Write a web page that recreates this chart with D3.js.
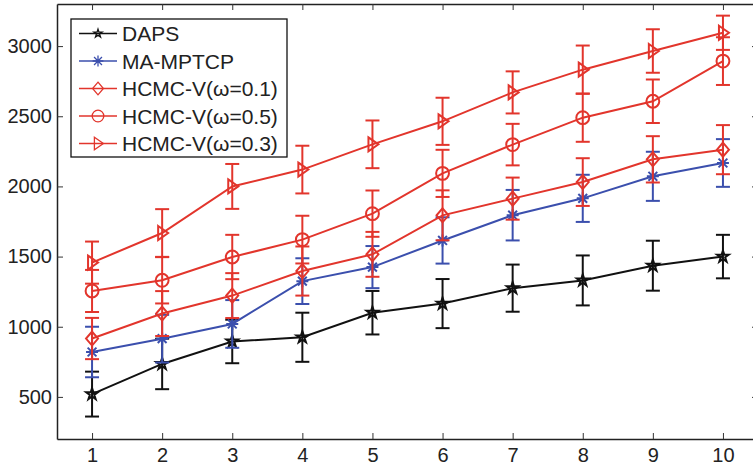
<!DOCTYPE html>
<html>
<head>
<meta charset="utf-8">
<script src="https://cdn.jsdelivr.net/npm/d3@7"></script>
<style>
  body { margin: 0; background: #fff; }
  svg text { font-family: "Liberation Sans", Arial, sans-serif; }
</style>
</head>
<body>
<div id="chart"></div>
<script>
// values
const xVals = [1, 2, 3, 4, 5, 6, 7, 8, 9, 10];
const dapsVals = [520, 735, 895, 925, 1100, 1165, 1275, 1330, 1435, 1500];
const dapsErr = [160, 180, 155, 175, 155, 175, 168, 178, 178, 155];
const mampVals = [820, 915, 1020, 1325, 1425, 1615, 1795, 1915, 2072, 2167];
const mampErr = [180, 170, 170, 163, 150, 165, 180, 168, 175, 170];
const h01Vals = [916, 1094, 1222, 1397, 1516, 1794, 1913, 2031, 2193, 2262];
const h01Err = [147, 160, 160, 175, 160, 178, 150, 170, 165, 175];
const h05Vals = [1255, 1331, 1497, 1621, 1806, 2093, 2298, 2490, 2607, 2893];
const h05Err = [150, 165, 158, 170, 165, 168, 148, 172, 155, 170];
const h03Vals = [1457, 1668, 2000, 2120, 2300, 2464, 2670, 2832, 2965, 3095];
const h03Err = [150, 170, 160, 170, 170, 168, 150, 172, 155, 122];
const yTicks = [500, 1000, 1500, 2000, 2500, 3000];
const seriesNames = ["DAPS", "MA-MPTCP", "HCMC-V(\u03c9=0.1)", "HCMC-V(\u03c9=0.5)", "HCMC-V(\u03c9=0.3)"];

const red = "#e2352c", blue = "#3b4fad", black = "#111";

const series = [
  {name: seriesNames[0], vals: dapsVals, err: dapsErr, color: black, marker: "star"},
  {name: seriesNames[1], vals: mampVals, err: mampErr, color: blue, marker: "asterisk"},
  {name: seriesNames[2], vals: h01Vals, err: h01Err, color: red, marker: "diamond"},
  {name: seriesNames[3], vals: h05Vals, err: h05Err, color: red, marker: "circle"},
  {name: seriesNames[4], vals: h03Vals, err: h03Err, color: red, marker: "triangle"}
];

const width = 753, height = 468;
const mLeft = 57, mRight = 758, mTop = 4, mBottom = 439;

const svg = d3.select("#chart").append("svg")
  .attr("width", width)
  .attr("height", height);

const x = d3.scaleLinear().domain([0.5, 10.5]).range([mLeft, mRight]);
const y = d3.scaleLinear().domain([200, 3300]).range([mBottom, mTop]);

// axes box
const axStyle = g => {
  g.selectAll(".domain").attr("stroke", "#222").attr("stroke-width", 1.5);
  g.selectAll(".tick line").attr("stroke", "#333").attr("stroke-width", 1);
  g.selectAll("text").attr("font-size", 20).attr("fill", "#222")
    .style("font-family", "'Liberation Sans', Arial, sans-serif");
};

svg.append("g")
  .attr("transform", `translate(0,${mBottom})`)
  .call(d3.axisBottom(x).tickValues(xVals).tickSizeInner(-6).tickSizeOuter(0).tickPadding(9))
  .call(axStyle);
svg.append("g")
  .attr("transform", `translate(0,${mTop})`)
  .call(d3.axisTop(x).tickValues(xVals).tickSizeInner(-6).tickSizeOuter(0).tickFormat(""))
  .call(axStyle);
svg.append("g")
  .attr("transform", `translate(${mLeft},0)`)
  .call(d3.axisLeft(y).tickValues(yTicks).tickFormat(d3.format("d"))
    .tickSizeInner(-6).tickSizeOuter(0).tickPadding(5))
  .call(axStyle);
svg.append("g")
  .attr("transform", `translate(${mRight},0)`)
  .call(d3.axisRight(y).tickValues(yTicks).tickSizeInner(-6).tickSizeOuter(0).tickFormat(""))
  .call(axStyle);

// marker shapes, k scales them down for the legend
function markerPath(type, k) {
  k = k || 1;
  if (type === "star") return d3.symbol(d3.symbolStar, 42 * k * k)();
  if (type === "diamond") return `M0,${-7 * k}L${6 * k},0L0,${7 * k}L${-6 * k},0Z`;
  if (type === "circle") return d3.symbol(d3.symbolCircle, 130 * k * k)();
  if (type === "triangle") return `M${-4 * k},${-7 * k}L${6 * k},0L${-4 * k},${7 * k}Z`;
  if (type === "asterisk") {
    const a = 6 * k, b = 4.4 * k;
    return `M${-a},0H${a}M0,${-a}V${a}M${-b},${-b}L${b},${b}M${-b},${b}L${b},${-b}`;
  }
}

const line = d3.line().x((d, i) => x(xVals[i])).y(d => y(d));

series.forEach(s => {
  const g = svg.append("g");
  // error bars
  const eb = g.selectAll(".eb").data(s.vals).enter().append("g");
  eb.append("line")
    .attr("x1", (d, i) => x(xVals[i])).attr("x2", (d, i) => x(xVals[i]))
    .attr("y1", (d, i) => y(d - s.err[i])).attr("y2", (d, i) => y(d + s.err[i]))
    .attr("stroke", s.color).attr("stroke-width", 2);
  [-1, 1].forEach(sign => {
    eb.append("line")
      .attr("x1", (d, i) => x(xVals[i]) - 7).attr("x2", (d, i) => x(xVals[i]) + 7)
      .attr("y1", (d, i) => y(d + sign * s.err[i])).attr("y2", (d, i) => y(d + sign * s.err[i]))
      .attr("stroke", s.color).attr("stroke-width", 2);
  });
  g.append("path")
    .datum(s.vals)
    .attr("d", line)
    .attr("fill", "none")
    .attr("stroke", s.color)
    .attr("stroke-width", 2);
  g.selectAll(".mk").data(s.vals).enter().append("path")
    .attr("d", markerPath(s.marker))
    .attr("transform", (d, i) => `translate(${x(xVals[i])},${y(d)})`)
    .attr("fill", "none")
    .attr("stroke", s.color)
    .attr("stroke-width", 2);
});

// legend
const lg = svg.append("g");
lg.append("rect")
  .attr("x", 71).attr("y", 19).attr("width", 216).attr("height", 138)
  .attr("fill", "#fff").attr("stroke", "#111").attr("stroke-width", 1.3);
series.forEach((s, i) => {
  const ly = 33.5 + i * 27.5;
  lg.append("line").attr("x1", 79).attr("x2", 117).attr("y1", ly).attr("y2", ly)
    .attr("stroke", s.color).attr("stroke-width", 1.7);
  lg.append("path").attr("d", markerPath(s.marker, s.marker === "star" ? 0.7 : 0.9))
    .attr("transform", `translate(98,${ly})`)
    .attr("fill", "none").attr("stroke", s.color).attr("stroke-width", 1.3);
  lg.append("text").attr("x", 122).attr("y", ly)
    .attr("dy", "0.36em")
    .attr("font-size", 21).attr("fill", "#222")
    .text(s.name);
});
</script>
</body>
</html>
